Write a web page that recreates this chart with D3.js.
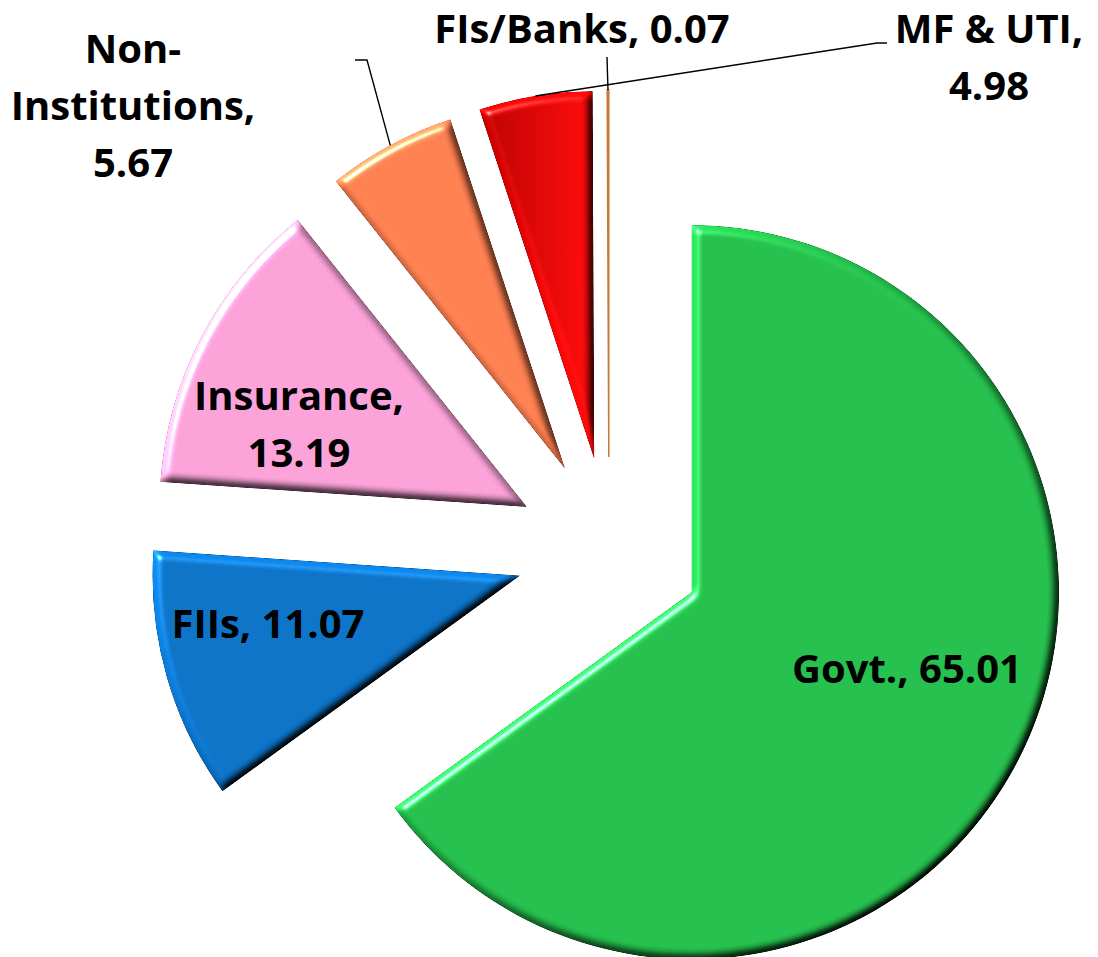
<!DOCTYPE html>
<html>
<head>
<meta charset="utf-8">
<script src="https://cdn.jsdelivr.net/npm/d3@7"></script>
<style>
  body { margin: 0; background: #fff; }
  svg { display: block; }
</style>
</head>
<body>
<svg width="1098" height="957"></svg>
<script>
// shareholding pattern, %
var categories = ["Govt.", "FIIs", "Insurance", "Non-Institutions", "MF & UTI", "FIs/Banks"];
var values = [65.01, 11.07, 13.19, 5.67, 4.98, 0.07];

// look of the chart
var colors = ["#24be4c", "#0b72c6", "#f9a0d6", "#ff7f50", "url(#redGrad)", "#c8782f"];
var labelWrap = ["one", "one", "two", "three", "two", "one"];
var labelPos = [[907, 683], [268, 638], [299, 410], [133, 63], [989, 43], [582, 43]];
// leader lines: points on the label side, the slice end is computed
var leaderPts = [null, null, null, [[355, 60], [367, 60]], [[887, 43], [877, 43]], [[607, 57]]];

var svg = d3.select("svg"),
    cx = 609, cy = 550,
    radius = 367,
    explode = 93,
    lineH = 57;

var data = categories.map(function (c, i) { return { name: c, value: values[i], i: i }; });

// filters / gradients
var defs = svg.append("defs");
var grad = defs.append("linearGradient").attr("id", "redGrad")
  .attr("x1", 0).attr("x2", 1).attr("y1", 0).attr("y2", 0);
grad.append("stop").attr("offset", "0%").attr("stop-color", "#b80000");
grad.append("stop").attr("offset", "100%").attr("stop-color", "#ff0a0a");

var f = defs.append("filter").attr("id", "bevel")
  .attr("color-interpolation-filters", "sRGB")
  .attr("x", "-5%").attr("y", "-5%").attr("width", "110%").attr("height", "110%");
f.append("feGaussianBlur").attr("in", "SourceAlpha").attr("stdDeviation", 4).attr("result", "blur");
f.append("feDiffuseLighting").attr("in", "blur").attr("surfaceScale", 5)
  .attr("diffuseConstant", 1).attr("lighting-color", "#fff").attr("result", "diff")
  .append("feDistantLight").attr("azimuth", 225).attr("elevation", 45);
f.append("feComposite").attr("in", "SourceGraphic").attr("in2", "diff")
  .attr("operator", "arithmetic").attr("k1", 1.414).attr("k2", 0).attr("k3", 0).attr("k4", 0)
  .attr("result", "lit");
f.append("feSpecularLighting").attr("in", "blur").attr("surfaceScale", 5)
  .attr("specularConstant", 0.7).attr("specularExponent", 50).attr("lighting-color", "#fff")
  .attr("result", "spec")
  .append("feDistantLight").attr("azimuth", 225).attr("elevation", 45);
f.append("feComposite").attr("in", "spec").attr("in2", "SourceAlpha").attr("operator", "in").attr("result", "specIn");
f.append("feComposite").attr("in", "lit").attr("in2", "specIn")
  .attr("operator", "arithmetic").attr("k1", 0).attr("k2", 1).attr("k3", 1).attr("k4", 0);

var pie = d3.pie().sort(null).value(function (d) { return d.value; });
var arc = d3.arc().innerRadius(0).outerRadius(radius);
var arcs = pie(data);

function mid(d) { return (d.startAngle + d.endAngle) / 2; }
function offset(d) {
  var a = mid(d);
  return [explode * Math.sin(a), -explode * Math.cos(a)];
}

var g = svg.append("g").attr("transform", "translate(" + cx + "," + cy + ")");

g.selectAll("path.slice")
  .data(arcs)
  .enter()
  .append("path")
  .attr("class", "slice")
  .attr("d", arc)
  .attr("transform", function (d) { var o = offset(d); return "translate(" + o[0] + "," + o[1] + ")"; })
  .attr("fill", function (d) { return colors[d.data.i]; })
  .attr("stroke", function (d) { return d.data.value < 1 ? colors[d.data.i] : "none"; })
  .attr("stroke-width", 1.5)
  .attr("filter", function (d) { return d.data.value < 1 ? null : "url(#bevel)"; });

// leader lines
arcs.forEach(function (d) {
  var pts = leaderPts[d.data.i];
  if (!pts) return;
  var o = offset(d), a = mid(d);
  var end = [cx + o[0] + radius * Math.sin(a), cy + o[1] - radius * Math.cos(a)];
  svg.append("path")
    .attr("d", d3.line()(pts.concat([end])))
    .attr("fill", "none")
    .attr("stroke", "#000")
    .attr("stroke-width", 1.4);
});

// labels
var fmt = d3.format(".2f");
function labelLines(d) {
  var n = d.name, v = fmt(d.value), mode = labelWrap[d.i];
  if (mode === "one") return [n + ", " + v];
  if (mode === "two") return [n + ",", v];
  var parts = n.split("-");
  return [parts[0] + "-", parts[1] + ",", v];
}

data.forEach(function (d) {
  var p = labelPos[d.i];
  var t = svg.append("text")
    .attr("x", p[0])
    .attr("y", p[1])
    .attr("text-anchor", "middle")
    .style("font-family", "'Open Sans', sans-serif")
    .style("font-weight", "bold")
    .style("font-size", "40px")
    .style("fill", "#000");
  labelLines(d).forEach(function (s, k) {
    t.append("tspan").attr("x", p[0]).attr("dy", k === 0 ? 0 : lineH).text(s);
  });
});
</script>
</body>
</html>
